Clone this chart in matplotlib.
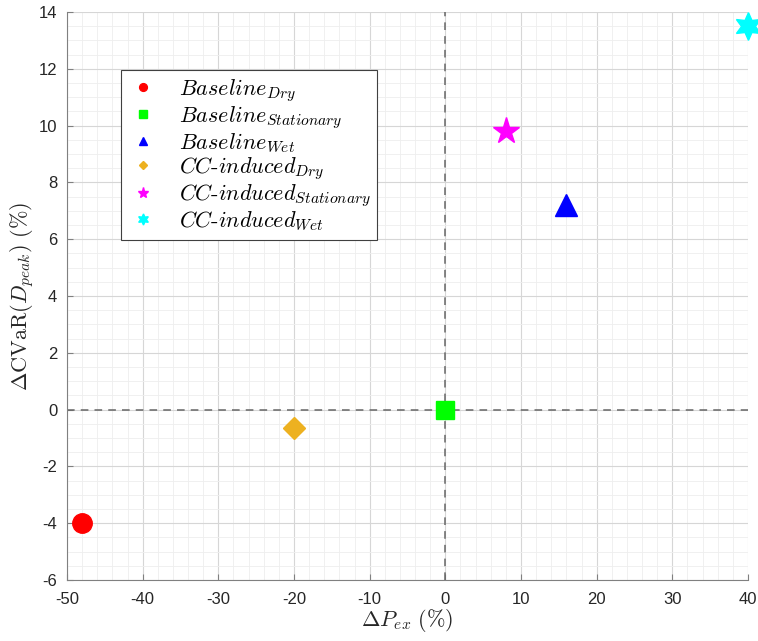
import numpy as np
import matplotlib
matplotlib.use("Agg")
import matplotlib.pyplot as plt
from matplotlib.ticker import MultipleLocator

plt.rcParams['font.family'] = ['Liberation Sans', 'DejaVu Sans']
plt.rcParams['mathtext.fontset'] = 'cm'
plt.rcParams['axes.unicode_minus'] = False

# data
labels = [r'$Baseline_{Dry}$', r'$Baseline_{Stationary}$', r'$Baseline_{Wet}$',
          r'$CC\text{-}induced_{Dry}$', r'$CC\text{-}induced_{Stationary}$', r'$CC\text{-}induced_{Wet}$']
dp_ex = [-48, 0, 16, -20, 8, 40]
dcvar = [-4.0, 0.0, 7.2, -0.65, 9.8, 13.5]

# style
colors = ['#ff0000', '#00ff00', '#0000ff', '#edb120', '#ff00ff', '#00ffff']
markers = ['o', 's', '^', 'D', '*', (6, 1, 0)]
sizes = [14, 13, 16, 11, 20, 20]

my_dpi = 100
fig = plt.figure(figsize = (758 / my_dpi, 641 / my_dpi), dpi = my_dpi)
ax = fig.add_axes([0.0884, 0.0952, 0.8984, 0.8861])

ax.axhline(0, color = '#666666', linestyle = (0, (5, 4)), linewidth = 1.1, zorder = 1)
ax.axvline(0, color = '#666666', linestyle = (0, (5, 4)), linewidth = 1.1, zorder = 1)

for i in range(len(labels)) :
    ax.plot(dp_ex[i], dcvar[i], linestyle = 'none', marker = markers[i], color = colors[i],
            markersize = sizes[i], label = labels[i], clip_on = False, zorder = 3)

ax.set_xlim(-50, 40)
ax.set_ylim(-6, 14)
ax.xaxis.set_major_locator(MultipleLocator(10))
ax.xaxis.set_minor_locator(MultipleLocator(2))
ax.yaxis.set_major_locator(MultipleLocator(2))
ax.yaxis.set_minor_locator(MultipleLocator(0.5))
ax.grid(which = 'major', color = '#d6d6d6', linewidth = 0.8)
ax.grid(which = 'minor', color = '#eeeeee', linewidth = 0.6)
ax.set_axisbelow(True)

for s in ['top', 'right'] :
    ax.spines[s].set_visible(False)
for s in ['left', 'bottom'] :
    ax.spines[s].set_color('#808080')
ax.tick_params(which = 'major', direction = 'in', length = 4, color = '#808080', labelsize = 12, labelcolor = '#262626')
ax.tick_params(axis = 'x', which = 'major', pad = 9)
ax.tick_params(axis = 'y', which = 'major', pad = 7)
ax.tick_params(which = 'minor', length = 0)

ax.set_xlabel(r'$\Delta P_{ex}\ (\%)$', fontsize = 16, color = '#262626', labelpad = 0)
ax.set_ylabel(r'$\Delta\mathrm{CVaR}(D_{peak})\ (\%)$', fontsize = 16, color = '#262626', labelpad = 2)

leg = ax.legend(loc = 'upper left', bbox_to_anchor = (0.079, 0.898), borderaxespad = 0,
                fontsize = 16, markerscale = 0.4, fancybox = False, edgecolor = '#404040',
                framealpha = 1, handlelength = 1.4, handletextpad = 0.9, labelspacing = 0.02, borderpad = 0.3)
leg.get_frame().set_linewidth(0.8)

plt.savefig("out.png", dpi = my_dpi)
